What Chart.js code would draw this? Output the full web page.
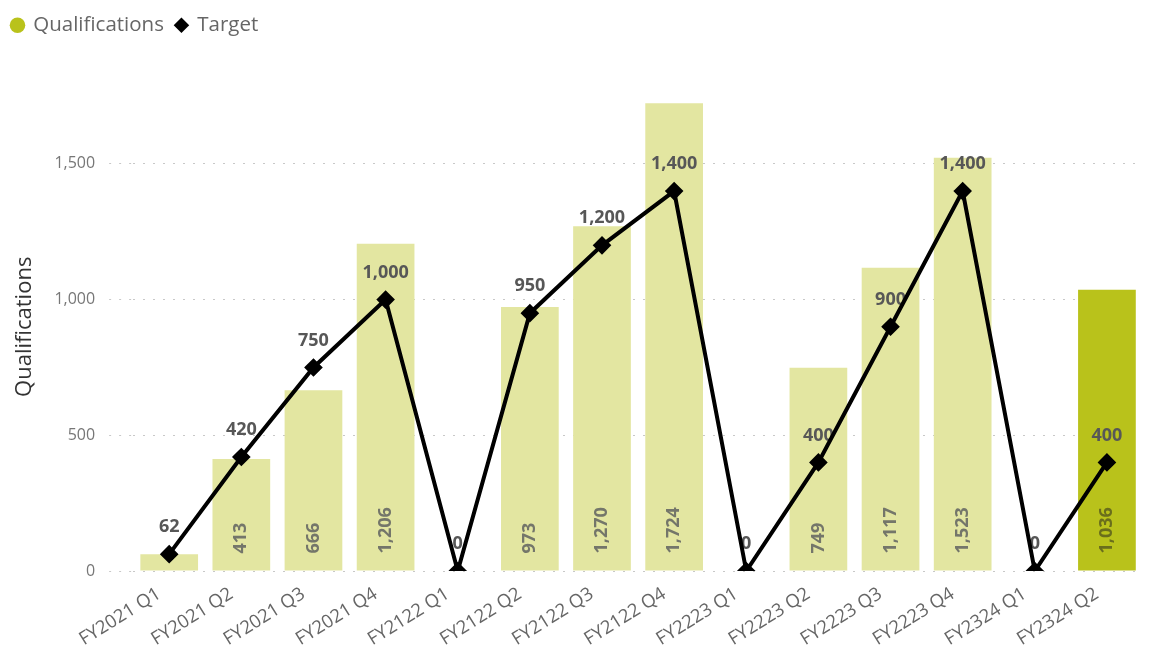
<!DOCTYPE html>
<html>
<head>
<meta charset="utf-8">
<script src="https://cdn.jsdelivr.net/npm/chart.js@4.4.1/dist/chart.umd.min.js"></script>
<style>
  html, body { margin: 0; padding: 0; background: #fff; }
  #wrap { width: 1158px; height: 652px; }
</style>
</head>
<body>
<div id="wrap"><canvas id="chart"></canvas></div>
<script>
const quarters = [
    'FY2021 Q1', 'FY2021 Q2', 'FY2021 Q3', 'FY2021 Q4',
    'FY2122 Q1', 'FY2122 Q2', 'FY2122 Q3', 'FY2122 Q4',
    'FY2223 Q1', 'FY2223 Q2', 'FY2223 Q3', 'FY2223 Q4',
    'FY2324 Q1', 'FY2324 Q2',
];
const qualifications = [62, 413, 666, 1206, 0, 973, 1270, 1724, 0, 749, 1117, 1523, 0, 1036];
const targets = [62, 420, 750, 1000, 0, 950, 1200, 1400, 0, 400, 900, 1400, 0, 400];
const yTicks = [0, 500, 1000, 1500];

const FONT = "'Segoe UI', 'Open Sans', 'Noto Sans', sans-serif";
const BAR_LIGHT = '#e3e6a1';
const BAR_CURRENT = '#b9c21b';

const fmt = v => v.toLocaleString('en-US');

// bar colours: last quarter highlighted
const barColors = qualifications.map((v, i) => (i === qualifications.length - 1 ? BAR_CURRENT : BAR_LIGHT));

// value labels: rotated inside bars, above the target points
const valueLabels = {
    id: 'valueLabels',
    afterDatasetDraw(chart, args) {
        if (args.index !== 0) return;
        const ctx = chart.ctx;
        const barMeta = chart.getDatasetMeta(0);
        const lineMeta = chart.getDatasetMeta(1);
        ctx.save();
        ctx.font = `bold 18px ${FONT}`;
        barMeta.data.forEach((bar, i) => {
            const text = fmt(qualifications[i]);
            const h = bar.base - bar.y;
            if (h < ctx.measureText(text).width + 24) return;
            ctx.save();
            ctx.translate(bar.x, bar.base - 17);
            ctx.rotate(-Math.PI / 2);
            ctx.textAlign = 'left';
            ctx.textBaseline = 'middle';
            ctx.fillStyle = i === qualifications.length - 1 ? '#6a6e1c' : '#74766a';
            ctx.fillText(text, 0, 0);
            ctx.restore();
        });
        ctx.textAlign = 'center';
        ctx.textBaseline = 'middle';
        ctx.fillStyle = '#575757';
        lineMeta.data.forEach((pt, i) => {
            ctx.fillText(fmt(targets[i]), pt.x, pt.y - 27);
        });
        ctx.restore();
    },
};

// extra room under the legend
const legendSpace = {
    id: 'legendSpace',
    beforeInit(chart) {
        const fit = chart.legend.fit;
        chart.legend.fit = function () {
            fit.bind(chart.legend)();
            this.height += 37;
        };
    },
};

const legendColors = [BAR_CURRENT, '#000'];

new Chart(document.getElementById('chart'), {
    data: {
        labels: quarters,
        datasets: [
            {
                type: 'bar',
                label: 'Qualifications',
                data: qualifications,
                backgroundColor: barColors,
                barPercentage: 0.8,
                categoryPercentage: 1.0,
                order: 1,
            },
            {
                type: 'line',
                label: 'Target',
                data: targets,
                borderColor: '#000',
                borderWidth: 4,
                pointStyle: 'rectRot',
                pointRadius: 6.5,
                pointBackgroundColor: '#000',
                pointBorderColor: '#000',
                tension: 0,
                order: 0,
            },
        ],
    },
    options: {
        responsive: true,
        maintainAspectRatio: false,
        animation: false,
        layout: { padding: { left: 0, right: 15, top: 3, bottom: 0 } },
        scales: {
            x: {
                afterFit(scale) {
                    scale.height = 81;
                },
                grid: { display: false },
                border: { display: false },
                ticks: {
                    maxRotation: 32,
                    minRotation: 32,
                    labelOffset: -10,
                    color: '#666',
                    font: { family: FONT, size: 18.5 },
                    padding: 4,
                },
            },
            y: {
                min: 0,
                max: 1800,
                afterBuildTicks(scale) {
                    scale.ticks = yTicks.map(value => ({ value }));
                },
                border: { display: false, dash: [2, 8] },
                grid: {
                    color: '#c8c8c8',
                    lineWidth: 1,
                    tickLength: 24,
                    tickColor: '#c8c8c8',
                    tickBorderDash: [2, 8],
                },
                ticks: {
                    color: '#777',
                    font: { family: FONT, size: 16 },
                    padding: 14,
                    callback: v => fmt(v),
                },
                title: {
                    display: true,
                    text: 'Qualifications',
                    color: '#333',
                    font: { family: FONT, size: 22 },
                    padding: { top: 12, bottom: 2 },
                },
            },
        },
        plugins: {
            tooltip: { enabled: false },
            legend: {
                position: 'top',
                align: 'start',
                labels: {
                    usePointStyle: true,
                    boxWidth: 11,
                    boxHeight: 11,
                    padding: 12,
                    color: '#666',
                    font: { family: FONT, size: 20.5 },
                    generateLabels(chart) {
                        return chart.data.datasets.map((ds, i) => ({
                            text: ds.label,
                            fillStyle: legendColors[i],
                            strokeStyle: legendColors[i],
                            lineWidth: 0,
                            pointStyle: i === 0 ? 'circle' : 'rectRot',
                            fontColor: '#666',
                            datasetIndex: i,
                        }));
                    },
                },
            },
        },
    },
    plugins: [valueLabels, legendSpace],
});
</script>
</body>
</html>
